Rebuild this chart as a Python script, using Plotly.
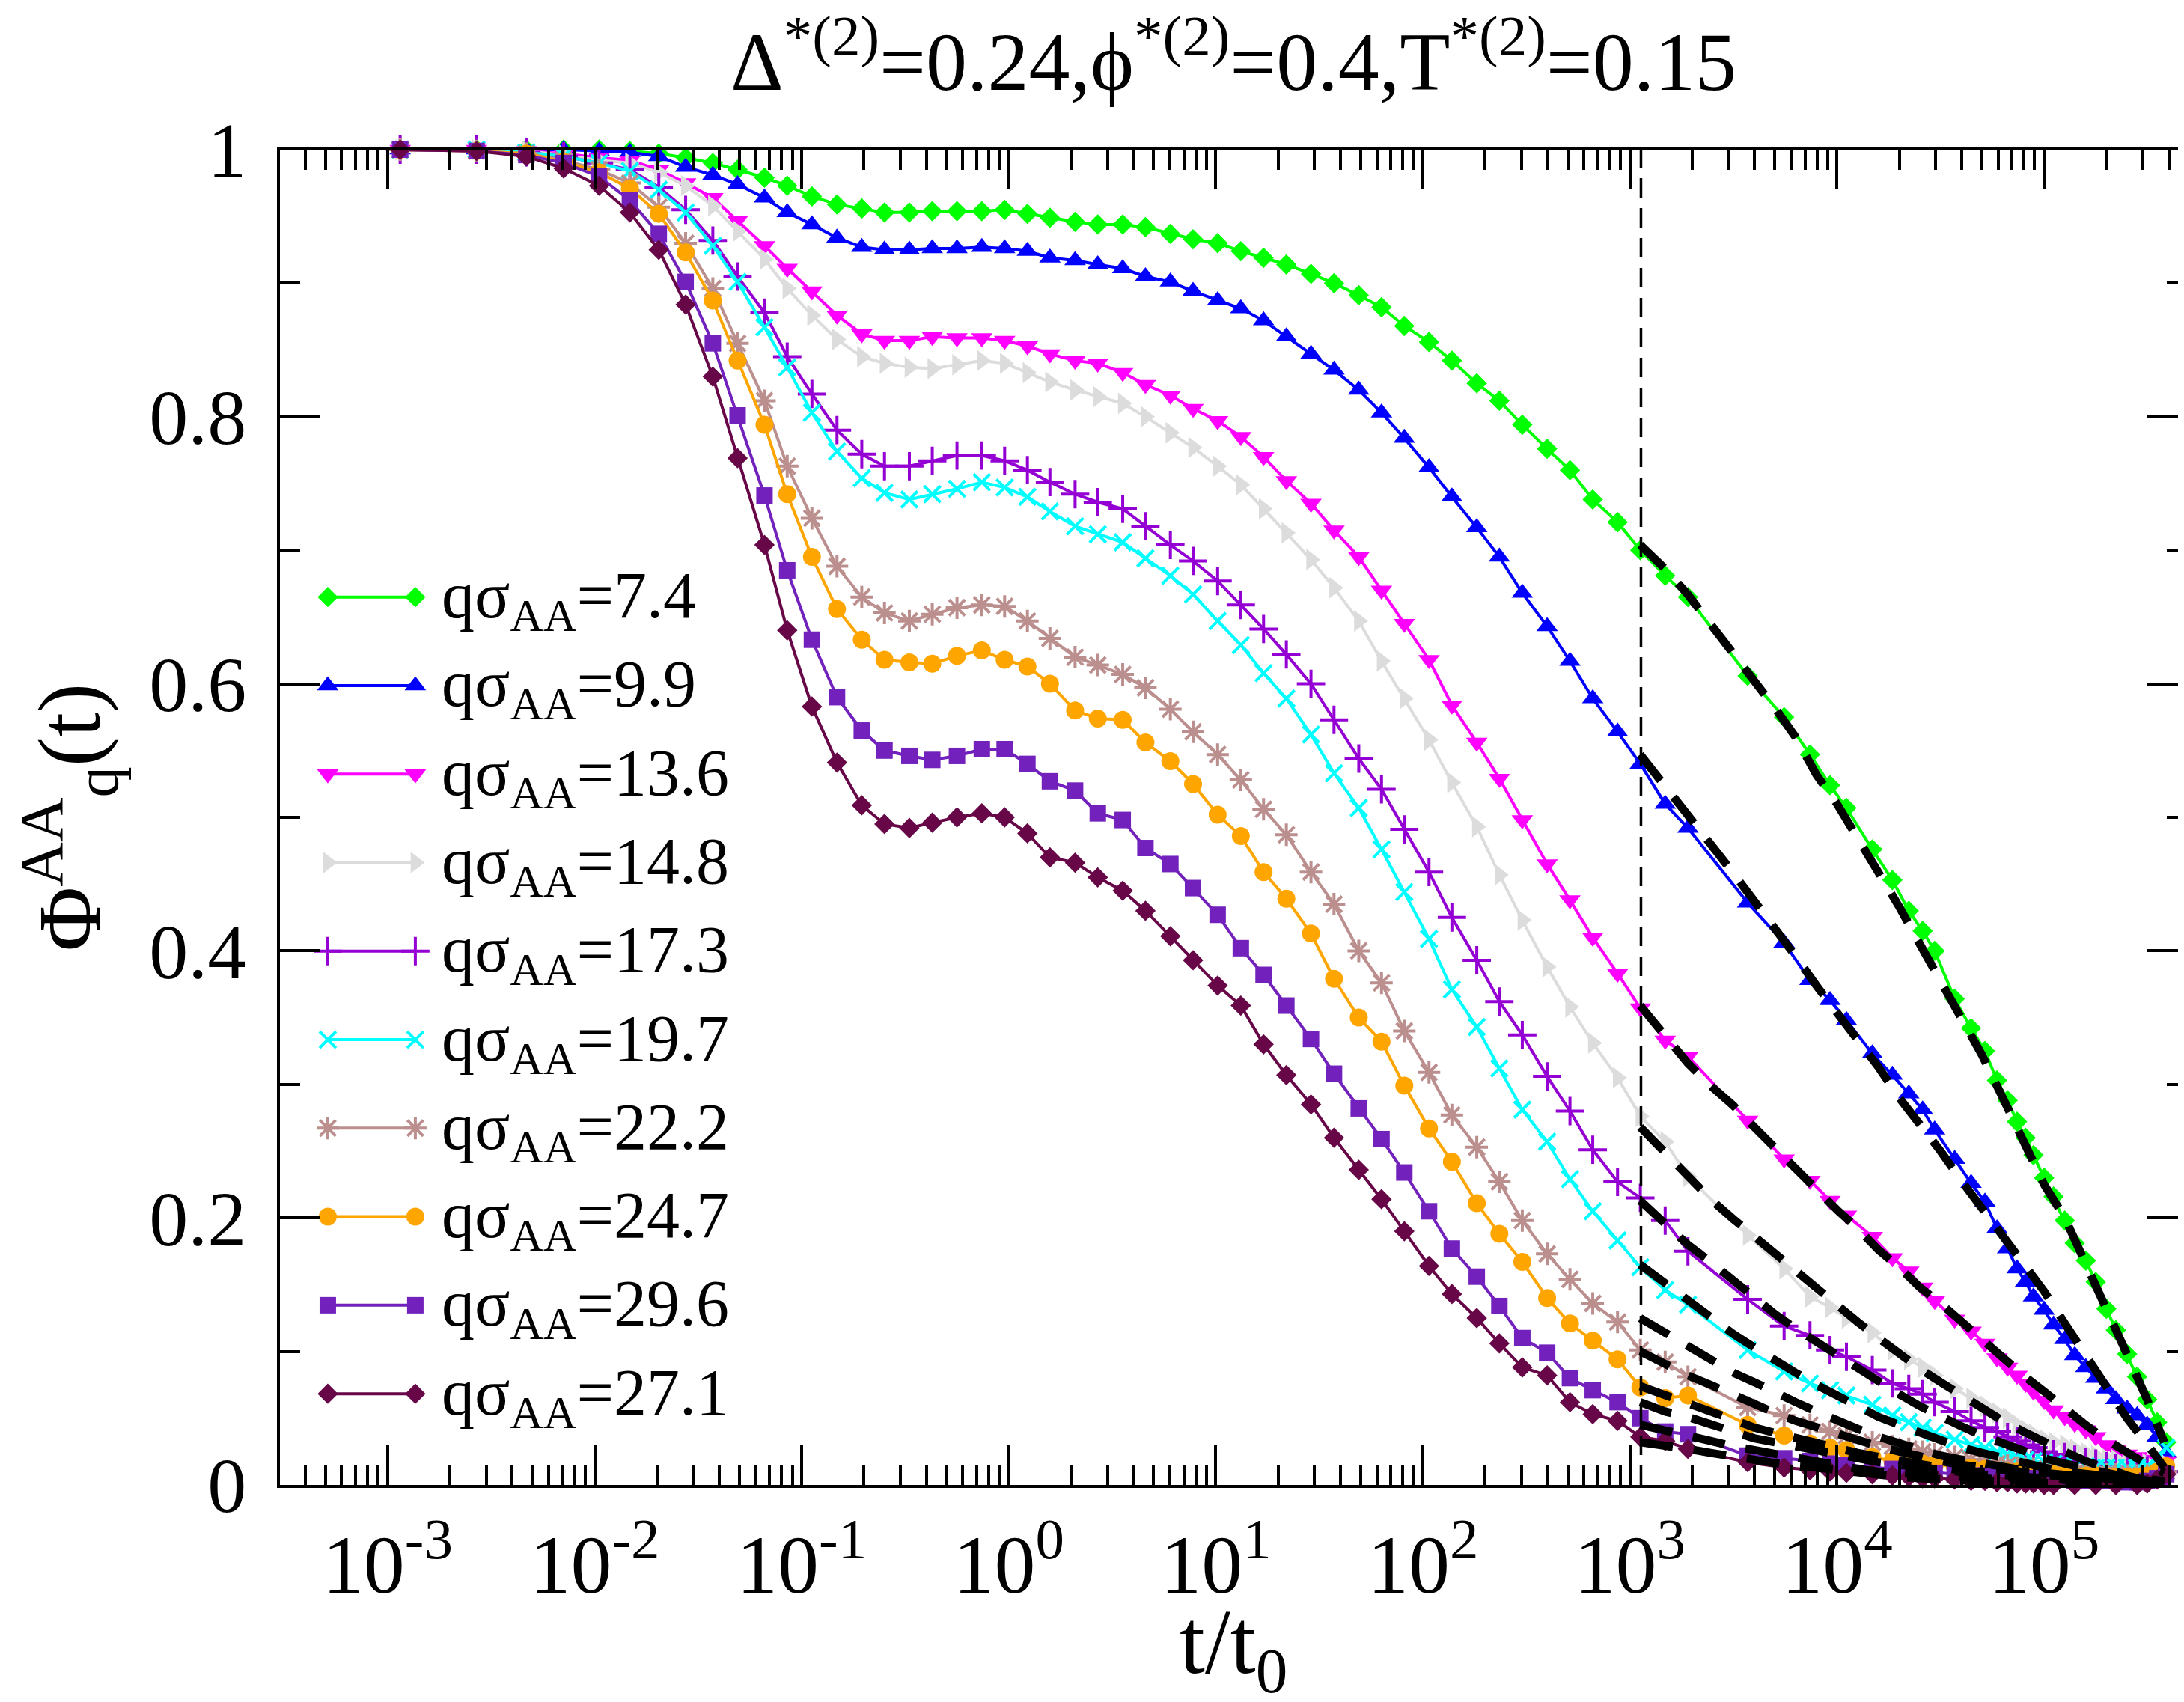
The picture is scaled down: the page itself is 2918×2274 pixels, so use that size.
import plotly.graph_objects as go

# time grid (t/t0): log-spaced short run, then the long run
t = [0.00115, 0.00269, 0.00468, 0.00708, 0.0105, 0.0148, 0.0204, 0.0275, 0.0372, 0.0490,
     0.0661, 0.0851, 0.112, 0.148, 0.195, 0.251, 0.331, 0.427, 0.562, 0.741,
     0.955, 1.23, 1.58, 2.09, 2.69, 3.55, 4.57, 6.03, 7.76, 10.2,
     13.2, 17.0, 21.9, 28.8, 37.2, 49.0, 63.1, 81.3, 107, 138,
     182, 234, 302, 398, 513, 661, 871, 1122, 1479, 1905,
     3700, 5550, 7400, 9250, 11100, 14800, 18500, 22200, 25900, 29600,
     37000, 44400, 51800, 59200, 66600, 74000, 81400, 88800, 100000, 111000,
     125800, 140600, 159100, 177600, 199800, 222000, 251600, 281200, 314500, 351500,
     388500]

phi_7_4 = [1.000, 1.000, 1.000, 1.000, 1.000, 0.999, 0.997, 0.994, 0.990, 0.985,
           0.979, 0.973, 0.965, 0.959, 0.956, 0.953, 0.953, 0.954, 0.954, 0.954,
           0.955, 0.952, 0.949, 0.946, 0.944, 0.944, 0.942, 0.937, 0.933, 0.930,
           0.924, 0.919, 0.914, 0.907, 0.900, 0.891, 0.882, 0.868, 0.856, 0.842,
           0.825, 0.812, 0.794, 0.776, 0.760, 0.738, 0.721, 0.700, 0.681, 0.665,
           0.606, 0.575, 0.547, 0.524, 0.507, 0.476, 0.453, 0.430, 0.415, 0.400,
           0.364, 0.342, 0.325, 0.303, 0.288, 0.272, 0.260, 0.247, 0.230, 0.216,
           0.198, 0.181, 0.168, 0.152, 0.132, 0.116, 0.098, 0.081, 0.064, 0.047,
           0.032]
phi_9_9 = [1.000, 1.000, 1.000, 1.000, 0.999, 0.998, 0.995, 0.987, 0.981, 0.974,
           0.964, 0.953, 0.944, 0.934, 0.927, 0.925, 0.925, 0.926, 0.926, 0.927,
           0.926, 0.924, 0.919, 0.917, 0.914, 0.911, 0.905, 0.901, 0.894, 0.887,
           0.881, 0.872, 0.860, 0.847, 0.835, 0.820, 0.803, 0.784, 0.762, 0.740,
           0.717, 0.695, 0.668, 0.643, 0.617, 0.589, 0.564, 0.540, 0.510, 0.492,
           0.436, 0.406, 0.378, 0.363, 0.348, 0.323, 0.307, 0.293, 0.281, 0.266,
           0.244, 0.226, 0.212, 0.192, 0.177, 0.162, 0.152, 0.141, 0.131, 0.120,
           0.109, 0.097, 0.088, 0.080, 0.072, 0.064, 0.057, 0.052, 0.045, 0.036,
           0.024]
phi_13_6 = [1.000, 1.000, 0.999, 0.997, 0.994, 0.992, 0.985, 0.975, 0.964, 0.947,
            0.928, 0.911, 0.894, 0.876, 0.862, 0.857, 0.857, 0.860, 0.859, 0.859,
            0.857, 0.853, 0.847, 0.842, 0.840, 0.833, 0.824, 0.816, 0.806, 0.797,
            0.785, 0.770, 0.752, 0.735, 0.715, 0.695, 0.670, 0.645, 0.618, 0.584,
            0.556, 0.529, 0.498, 0.465, 0.438, 0.410, 0.383, 0.357, 0.333, 0.321,
            0.273, 0.244, 0.228, 0.213, 0.202, 0.186, 0.170, 0.160, 0.148, 0.138,
            0.124, 0.115, 0.106, 0.095, 0.088, 0.082, 0.076, 0.070, 0.063, 0.056,
            0.051, 0.046, 0.041, 0.036, 0.030, 0.026, 0.023, 0.021, 0.019, 0.018,
            0.018]
phi_14_8 = [1.000, 1.000, 0.999, 0.996, 0.992, 0.990, 0.983, 0.973, 0.958, 0.939,
            0.918, 0.896, 0.876, 0.858, 0.845, 0.840, 0.837, 0.836, 0.839, 0.842,
            0.840, 0.833, 0.826, 0.820, 0.815, 0.810, 0.800, 0.788, 0.777, 0.763,
            0.749, 0.731, 0.713, 0.693, 0.672, 0.647, 0.617, 0.589, 0.558, 0.526,
            0.493, 0.457, 0.423, 0.388, 0.358, 0.331, 0.305, 0.276, 0.257, 0.231,
            0.187, 0.162, 0.141, 0.133, 0.125, 0.114, 0.101, 0.094, 0.088, 0.082,
            0.072, 0.065, 0.059, 0.054, 0.050, 0.045, 0.041, 0.038, 0.034, 0.032,
            0.030, 0.027, 0.024, 0.022, 0.020, 0.019, 0.018, 0.017, 0.016, 0.015,
            0.015]
phi_17_3 = [1.000, 1.000, 0.998, 0.995, 0.990, 0.985, 0.972, 0.955, 0.932, 0.905,
            0.878, 0.845, 0.817, 0.790, 0.772, 0.763, 0.763, 0.767, 0.771, 0.771,
            0.767, 0.760, 0.751, 0.742, 0.736, 0.731, 0.718, 0.704, 0.692, 0.677,
            0.659, 0.641, 0.622, 0.600, 0.573, 0.544, 0.521, 0.491, 0.459, 0.425,
            0.393, 0.362, 0.337, 0.306, 0.280, 0.251, 0.227, 0.215, 0.198, 0.175,
            0.139, 0.119, 0.112, 0.101, 0.096, 0.086, 0.076, 0.072, 0.068, 0.062,
            0.055, 0.048, 0.043, 0.040, 0.036, 0.033, 0.030, 0.028, 0.025, 0.023,
            0.021, 0.019, 0.017, 0.016, 0.014, 0.013, 0.013, 0.012, 0.011, 0.011,
            0.010]
phi_19_7 = [1.000, 1.000, 0.998, 0.995, 0.990, 0.984, 0.970, 0.953, 0.928, 0.901,
            0.867, 0.837, 0.803, 0.774, 0.754, 0.743, 0.738, 0.742, 0.746, 0.751,
            0.747, 0.740, 0.729, 0.718, 0.712, 0.706, 0.694, 0.681, 0.667, 0.647,
            0.629, 0.608, 0.589, 0.562, 0.533, 0.507, 0.476, 0.444, 0.409, 0.371,
            0.343, 0.312, 0.281, 0.257, 0.229, 0.205, 0.183, 0.163, 0.146, 0.135,
            0.101, 0.085, 0.076, 0.071, 0.067, 0.060, 0.052, 0.047, 0.043, 0.039,
            0.034, 0.030, 0.028, 0.025, 0.023, 0.021, 0.019, 0.018, 0.017, 0.016,
            0.015, 0.014, 0.014, 0.013, 0.013, 0.013, 0.013, 0.013, 0.014, 0.020,
            0.028]
phi_22_2 = [1.000, 0.999, 0.997, 0.992, 0.985, 0.975, 0.957, 0.930, 0.896, 0.855,
            0.812, 0.763, 0.724, 0.688, 0.665, 0.653, 0.647, 0.652, 0.657, 0.659,
            0.658, 0.647, 0.634, 0.620, 0.614, 0.607, 0.597, 0.581, 0.564, 0.547,
            0.528, 0.506, 0.487, 0.459, 0.435, 0.400, 0.376, 0.340, 0.309, 0.277,
            0.253, 0.227, 0.198, 0.173, 0.154, 0.136, 0.122, 0.101, 0.092, 0.081,
            0.058, 0.052, 0.045, 0.040, 0.037, 0.032, 0.029, 0.027, 0.025, 0.023,
            0.021, 0.019, 0.017, 0.016, 0.015, 0.013, 0.012, 0.012, 0.011, 0.010,
            0.010, 0.009, 0.009, 0.008, 0.008, 0.008, 0.007, 0.007, 0.007, 0.008,
            0.010]
phi_24_7 = [1.000, 0.999, 0.997, 0.991, 0.983, 0.971, 0.952, 0.923, 0.887, 0.842,
            0.794, 0.742, 0.695, 0.656, 0.633, 0.618, 0.616, 0.615, 0.621, 0.625,
            0.618, 0.613, 0.600, 0.580, 0.574, 0.573, 0.556, 0.542, 0.525, 0.502,
            0.486, 0.459, 0.439, 0.413, 0.379, 0.350, 0.332, 0.299, 0.267, 0.242,
            0.211, 0.188, 0.167, 0.140, 0.121, 0.108, 0.094, 0.073, 0.065, 0.067,
            0.045, 0.037, 0.031, 0.028, 0.026, 0.021, 0.018, 0.017, 0.016, 0.015,
            0.014, 0.013, 0.012, 0.011, 0.010, 0.010, 0.009, 0.009, 0.008, 0.008,
            0.008, 0.007, 0.007, 0.007, 0.006, 0.006, 0.006, 0.006, 0.007, 0.010,
            0.014]
phi_29_6 = [1.000, 0.999, 0.996, 0.990, 0.980, 0.962, 0.937, 0.901, 0.855, 0.801,
            0.741, 0.685, 0.633, 0.590, 0.565, 0.550, 0.546, 0.543, 0.546, 0.551,
            0.551, 0.540, 0.527, 0.520, 0.503, 0.498, 0.477, 0.465, 0.447, 0.427,
            0.402, 0.382, 0.359, 0.334, 0.308, 0.282, 0.259, 0.234, 0.205, 0.177,
            0.156, 0.134, 0.110, 0.099, 0.080, 0.071, 0.062, 0.050, 0.040, 0.038,
            0.022, 0.020, 0.018, 0.016, 0.015, 0.013, 0.012, 0.011, 0.010, 0.009,
            0.008, 0.007, 0.007, 0.006, 0.006, 0.005, 0.005, 0.005, 0.004, 0.004,
            0.004, 0.003, 0.003, 0.003, 0.003, 0.003, 0.002, 0.002, 0.003, 0.005,
            0.008]
phi_27_1 = [1.000, 0.999, 0.995, 0.986, 0.973, 0.953, 0.925, 0.884, 0.830, 0.769,
            0.704, 0.640, 0.583, 0.541, 0.509, 0.495, 0.492, 0.496, 0.500, 0.503,
            0.500, 0.488, 0.470, 0.466, 0.455, 0.445, 0.430, 0.411, 0.393, 0.374,
            0.359, 0.330, 0.307, 0.285, 0.260, 0.236, 0.214, 0.190, 0.164, 0.143,
            0.125, 0.106, 0.088, 0.082, 0.062, 0.053, 0.048, 0.036, 0.033, 0.027,
            0.017, 0.013, 0.011, 0.010, 0.009, 0.008, 0.007, 0.006, 0.005, 0.005,
            0.004, 0.003, 0.003, 0.002, 0.002, 0.001, 0.001, 0.001, 0.000, 0.000,
            -0.001, 0.000, -0.001, 0.000, -0.001, 0.000, -0.001, 0.000, 0.001, 0.004,
            0.008]

# long-time fits (dashed black), from the vertical line onwards
t_fit = [1120, 1480, 1900, 2450, 3160, 3980, 5010, 6310, 7940, 10000,
         12590, 15850, 19950, 25120, 31620, 39810, 50120, 63100, 79430, 100000,
         125900, 158500, 199500, 251200, 316200, 380000]
fits = [
    [0.704, 0.686, 0.667, 0.645, 0.624, 0.604, 0.582, 0.560, 0.532, 0.510, 0.485, 0.460, 0.433,
     0.405, 0.378, 0.352, 0.322, 0.290, 0.258, 0.225, 0.200, 0.167, 0.132, 0.098, 0.063, 0.032],
    [0.547, 0.524, 0.501, 0.480, 0.458, 0.438, 0.416, 0.396, 0.374, 0.354, 0.334, 0.313, 0.290,
     0.271, 0.250, 0.228, 0.207, 0.186, 0.165, 0.145, 0.121, 0.098, 0.075, 0.050, 0.030, 0.013],
    [0.359, 0.336, 0.316, 0.299, 0.284, 0.268, 0.252, 0.237, 0.220, 0.206, 0.192, 0.176, 0.163,
     0.148, 0.136, 0.122, 0.108, 0.094, 0.082, 0.070, 0.057, 0.045, 0.034, 0.024, 0.015, 0.009],
    [0.268, 0.248, 0.231, 0.214, 0.199, 0.186, 0.173, 0.160, 0.146, 0.134, 0.122, 0.110, 0.098,
     0.087, 0.077, 0.067, 0.057, 0.048, 0.040, 0.032, 0.025, 0.018, 0.012, 0.007, 0.003, 0.001],
    [0.213, 0.195, 0.180, 0.167, 0.153, 0.141, 0.128, 0.117, 0.107, 0.097, 0.087, 0.077, 0.068,
     0.059, 0.051, 0.044, 0.037, 0.031, 0.025, 0.020, 0.016, 0.012, 0.009, 0.006, 0.004, 0.003],
    [0.165, 0.151, 0.138, 0.126, 0.113, 0.103, 0.093, 0.084, 0.075, 0.067, 0.059, 0.051, 0.045,
     0.039, 0.033, 0.028, 0.024, 0.020, 0.016, 0.013, 0.010, 0.008, 0.006, 0.004, 0.003, 0.002],
    [0.125, 0.114, 0.104, 0.094, 0.084, 0.077, 0.069, 0.062, 0.055, 0.048, 0.042, 0.036, 0.031,
     0.026, 0.022, 0.019, 0.016, 0.013, 0.011, 0.009, 0.007, 0.006, 0.005, 0.004, 0.003, 0.002],
    [0.100, 0.090, 0.082, 0.075, 0.067, 0.060, 0.054, 0.048, 0.043, 0.038, 0.033, 0.029, 0.025,
     0.021, 0.018, 0.015, 0.013, 0.011, 0.009, 0.007, 0.006, 0.005, 0.004, 0.003, 0.002, 0.002],
    [0.074, 0.067, 0.060, 0.055, 0.049, 0.043, 0.039, 0.035, 0.031, 0.027, 0.024, 0.021, 0.018,
     0.015, 0.013, 0.011, 0.009, 0.008, 0.006, 0.005, 0.004, 0.004, 0.003, 0.002, 0.002, 0.001],
    [0.062, 0.055, 0.051, 0.045, 0.040, 0.035, 0.032, 0.029, 0.026, 0.022, 0.020, 0.017, 0.015,
     0.013, 0.011, 0.009, 0.008, 0.006, 0.005, 0.004, 0.004, 0.003, 0.002, 0.002, 0.001, 0.001],
    [0.045, 0.041, 0.038, 0.033, 0.029, 0.026, 0.023, 0.020, 0.017, 0.015, 0.012, 0.010, 0.009,
     0.007, 0.006, 0.005, 0.004, 0.003, 0.003, 0.002, 0.002, 0.001, 0.001, 0.001, 0.001, 0.000],
    [0.032, 0.030, 0.027, 0.024, 0.021, 0.018, 0.016, 0.014, 0.013, 0.011, 0.009, 0.008, 0.006,
     0.005, 0.004, 0.004, 0.003, 0.002, 0.002, 0.001, 0.001, 0.001, 0.001, 0.000, 0.000, 0.000],
]

t_cut = 1130  # start of the fitting window

labels = ["7.4", "9.9", "13.6", "14.8", "17.3", "19.7", "22.2", "24.7", "29.6", "27.1"]
series = [phi_7_4, phi_9_9, phi_13_6, phi_14_8, phi_17_3, phi_19_7,
          phi_22_2, phi_24_7, phi_29_6, phi_27_1]
colors = ["#00ff00", "#0000ff", "#ff00ff", "#dcdcdc", "#9400d3",
          "#00ffff", "#bc8f8f", "#ffa500", "#7221bc", "#670748"]
symbols = ["diamond", "triangle-up", "triangle-down", "triangle-right", "cross-thin",
           "x-thin", "asterisk", "circle", "square", "diamond"]
sizes = [21, 25, 25, 25, 27, 22, 25, 24, 22, 21]

FONT = "Liberation Serif, Times New Roman, serif"


def marker_for(i):
    thin = symbols[i] in ("cross-thin", "x-thin", "asterisk")
    return dict(symbol=symbols[i], size=sizes[i], color=colors[i],
                line=dict(color=colors[i], width=4 if thin else 0))


fig = go.Figure()

for i, ys in enumerate(series):
    assert len(ys) == len(t), (labels[i], len(ys))
    fig.add_trace(go.Scatter(x=t, y=ys, mode="lines+markers",
                             line=dict(color=colors[i], width=4),
                             marker=marker_for(i), cliponaxis=False,
                             showlegend=False))

for f in fits:
    assert len(f) == len(t_fit)
    fig.add_trace(go.Scatter(x=t_fit, y=f, mode="lines",
                             line=dict(color="black", width=11, dash="44px,28px"),
                             showlegend=False))

fig.add_trace(go.Scatter(x=[t_cut, t_cut], y=[0, 1], mode="lines",
                         line=dict(color="black", width=3.5, dash="26px,14px"),
                         showlegend=False))

# hand-made legend in the style of the original (marker at both ends of the line)
leg_x = [0.0251, 0.0710]
leg_y0, leg_dy = 0.665, 0.0663
annotations = []
for i, lab in enumerate(labels):
    yy = leg_y0 - i * leg_dy
    fig.add_trace(go.Scatter(x=leg_x, y=[yy, yy], xaxis="x2", yaxis="y2",
                             mode="lines+markers",
                             line=dict(color=colors[i], width=4),
                             marker=marker_for(i), showlegend=False))
    annotations.append(dict(x=0.084, y=yy, xref="paper", yref="paper",
                            xanchor="left", yanchor="middle", yshift=-4,
                            text="q\u03c3<sub>AA</sub>=" + lab, showarrow=False,
                            font=dict(family=FONT, size=88, color="black")))

annotations.append(dict(x=0.5, y=1, xref="paper", yref="paper", xanchor="center",
                        yanchor="bottom", yshift=54, showarrow=False,
                        text="\u0394<sup>*(2)</sup>=0.24,\u03d5<sup>*(2)</sup>=0.4,"
                             "T<sup>*(2)</sup>=0.15",
                        font=dict(family=FONT, size=110, color="black")))
annotations.append(dict(x=0.5, y=0, xref="paper", yref="paper", xanchor="center",
                        yanchor="top", yshift=-140, showarrow=False,
                        text="t/t<sub>0</sub>",
                        font=dict(family=FONT, size=122, color="black")))
annotations.append(dict(x=0, y=0.5, xref="paper", yref="paper", xanchor="center",
                        yanchor="middle", xshift=-282, showarrow=False, textangle=-90,
                        text="\u03a6<sup>AA</sup><sub>q</sub>(t)",
                        font=dict(family=FONT, size=118, color="black")))

major_x = [1e-3, 1e-2, 1e-1, 1, 10, 100, 1e3, 1e4, 1e5]
major_x_text = ["10<sup>-3</sup>", "10<sup>-2</sup>", "10<sup>-1</sup>", "10<sup>0</sup>",
                "10<sup>1</sup>", "10<sup>2</sup>", "10<sup>3</sup>", "10<sup>4</sup>",
                "10<sup>5</sup>"]
minor_x = [m * 10.0 ** k for k in range(-4, 6) for m in range(2, 10)]

axis_common = dict(showline=True, linewidth=4, linecolor="black", mirror="ticks",
                   ticks="inside", ticklen=53, tickwidth=3.5, tickcolor="black",
                   showgrid=False, zeroline=False)

fig.update_layout(
    width=2918, height=2274,
    margin=dict(l=366, r=4, t=192, b=298, autoexpand=False),
    paper_bgcolor="white", plot_bgcolor="white",
    showlegend=False,
    xaxis=dict(type="log", range=[-3.52, 5.69], tickmode="array",
               tickvals=major_x, ticktext=major_x_text, ticklabelstandoff=8,
               tickfont=dict(family=FONT, size=110, color="black"),
               minor=dict(tickmode="array", tickvals=minor_x, ticks="inside",
                          ticklen=27, tickwidth=3.5, tickcolor="black", showgrid=False),
               **axis_common),
    yaxis=dict(range=[0, 1], tickmode="array", tickvals=[0, 0.2, 0.4, 0.6, 0.8, 1],
               ticktext=["0", "0.2", "0.4", "0.6", "0.8", "1"], ticklabelstandoff=20,
               tickfont=dict(family=FONT, size=104, color="black"),
               minor=dict(dtick=0.1, ticks="inside", ticklen=27, tickwidth=3.5,
                          tickcolor="black", showgrid=False),
               **axis_common),
    xaxis2=dict(overlaying="x", range=[0, 1], visible=False, anchor="y2"),
    yaxis2=dict(overlaying="y", range=[0, 1], visible=False, anchor="x2"),
    annotations=annotations,
)

fig.write_html("out.html")
